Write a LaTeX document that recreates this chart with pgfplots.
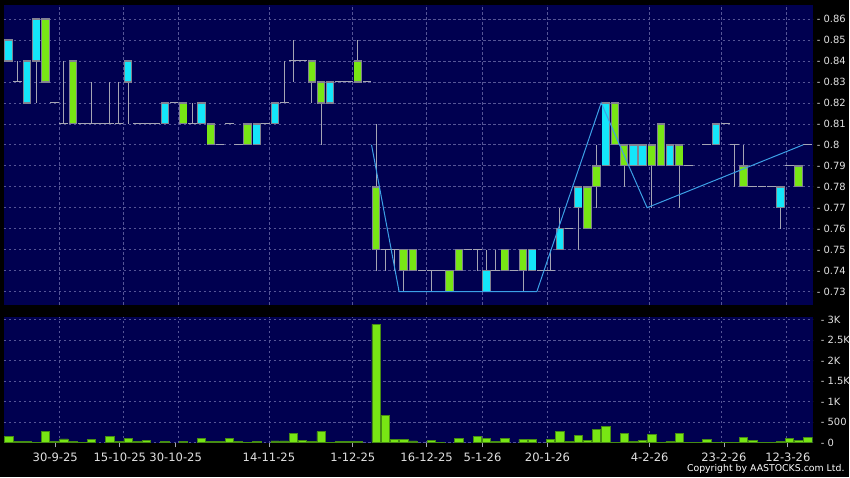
\documentclass[border=0pt]{standalone}
\usepackage{fontspec}
\setmainfont{DejaVu Sans}
\usepackage{pgfplots}
\pgfplotsset{compat=1.18}
\usepackage{pgfplotstable}

\definecolor{bg}{RGB}{0,0,80}
\definecolor{gridc}{RGB}{85,85,150}
\definecolor{upc}{RGB}{20,230,250}
\definecolor{dnc}{RGB}{120,230,20}
\definecolor{wick}{RGB}{165,165,180}
\definecolor{edge}{RGB}{130,130,145}
\definecolor{vedge}{RGB}{70,140,20}
\definecolor{zz}{RGB}{60,160,230}
\definecolor{lab}{RGB}{225,225,225}

% up candles (cyan)
\pgfplotstableread{
i o c h l
0 0.84 0.85 0.85 0.84
2 0.82 0.84 0.84 0.82
3 0.84 0.86 0.86 0.82
13 0.83 0.84 0.84 0.81
17 0.81 0.82 0.82 0.81
21 0.81 0.82 0.82 0.81
27 0.80 0.81 0.81 0.80
29 0.81 0.82 0.82 0.81
35 0.82 0.83 0.83 0.82
52 0.73 0.74 0.75 0.73
57 0.74 0.75 0.75 0.74
60 0.75 0.76 0.77 0.75
62 0.77 0.78 0.78 0.75
65 0.79 0.82 0.82 0.79
68 0.79 0.80 0.80 0.79
69 0.79 0.80 0.80 0.79
72 0.79 0.80 0.80 0.79
77 0.80 0.81 0.81 0.80
84 0.77 0.78 0.78 0.76
}\up

% down candles (green)
\pgfplotstableread{
i o c h l
4 0.86 0.83 0.86 0.83
7 0.84 0.81 0.84 0.81
19 0.82 0.81 0.82 0.81
22 0.81 0.80 0.81 0.80
26 0.81 0.80 0.81 0.80
33 0.84 0.83 0.84 0.82
34 0.83 0.82 0.83 0.80
38 0.84 0.83 0.85 0.83
40 0.78 0.75 0.81 0.74
43 0.75 0.74 0.75 0.73
44 0.75 0.74 0.75 0.74
48 0.74 0.73 0.74 0.73
49 0.75 0.74 0.75 0.74
54 0.75 0.74 0.75 0.74
56 0.75 0.74 0.75 0.73
63 0.78 0.76 0.78 0.76
64 0.79 0.78 0.80 0.77
66 0.82 0.80 0.82 0.80
67 0.80 0.79 0.80 0.78
70 0.80 0.79 0.80 0.77
71 0.81 0.79 0.81 0.79
73 0.80 0.79 0.80 0.77
80 0.79 0.78 0.80 0.78
86 0.79 0.78 0.79 0.78
}\dn

% doji days
\pgfplotstableread{
i o c h l
1 0.83 0.83 0.84 0.83
5 0.82 0.82 0.82 0.82
6 0.81 0.81 0.84 0.81
8 0.81 0.81 0.81 0.81
9 0.81 0.81 0.83 0.81
10 0.81 0.81 0.81 0.81
11 0.81 0.81 0.83 0.81
12 0.81 0.81 0.83 0.81
14 0.81 0.81 0.81 0.81
15 0.81 0.81 0.81 0.81
16 0.81 0.81 0.81 0.81
18 0.82 0.82 0.82 0.82
20 0.81 0.81 0.82 0.81
23 0.80 0.80 0.80 0.80
24 0.81 0.81 0.81 0.81
25 0.80 0.80 0.80 0.80
28 0.81 0.81 0.81 0.81
30 0.82 0.82 0.84 0.82
31 0.84 0.84 0.85 0.83
32 0.84 0.84 0.84 0.84
36 0.83 0.83 0.83 0.83
37 0.83 0.83 0.83 0.83
39 0.83 0.83 0.83 0.83
41 0.75 0.75 0.75 0.74
42 0.75 0.75 0.75 0.74
45 0.74 0.74 0.74 0.74
46 0.74 0.74 0.74 0.73
47 0.74 0.74 0.74 0.74
50 0.75 0.75 0.75 0.75
51 0.75 0.75 0.75 0.74
53 0.74 0.74 0.75 0.74
55 0.74 0.74 0.74 0.74
58 0.74 0.74 0.74 0.74
59 0.74 0.74 0.75 0.74
61 0.76 0.76 0.76 0.76
74 0.79 0.79 0.79 0.79
76 0.80 0.80 0.80 0.80
78 0.81 0.81 0.81 0.81
79 0.80 0.80 0.80 0.78
81 0.78 0.78 0.78 0.78
82 0.78 0.78 0.78 0.78
83 0.78 0.78 0.78 0.78
85 0.79 0.79 0.79 0.79
87 0.80 0.80 0.80 0.80
}\dj

% volume
\pgfplotstableread{
i v
0 150
1 30
2 30
3 10
4 270
5 30
6 90
7 30
8 10
9 80
11 160
12 30
13 100
14 30
15 65
17 30
19 25
21 105
22 30
23 30
24 113
25 25
26 10
27 25
29 45
30 45
31 235
32 55
33 30
34 267
35 10
36 30
37 30
38 25
40 2880
41 664
42 80
43 80
44 45
46 50
47 16
49 105
51 153
52 97
53 40
54 97
56 80
57 73
59 80
60 275
61 32
62 185
63 48
64 331
65 389
66 16
67 218
68 32
69 48
70 202
71 10
72 24
73 226
74 16
75 16
76 80
77 16
78 16
79 8
80 137
81 48
82 8
83 16
84 24
85 105
86 56
87 121
}\vol

\pgfplotsset{
  panel/.style={
    scale only axis, width=810bp,
    xmin=-0.51, xmax=87.53,
    axis background/.style={fill=bg},
    axis line style={draw=none},
    grid style={gridc, dash pattern=on 2.5bp off 2.5bp, line width=0.6bp},
    ytick pos=right, yticklabel pos=right,
    ytick style={draw=none},
    yticklabel style={anchor=west, inner sep=0pt, xshift=4bp, text=lab, font=\fontsize{10}{10}\selectfont},
    ymajorgrids,
  },
  wickp/.style={draw=none, mark=none, forget plot,
    error bars/.cd, y dir=both, y explicit, error mark=none,
    error bar style={draw=wick, line width=1bp, solid}},
  bodyp/.style 2 args={draw=none, mark=none, forget plot,
    error bars/.cd, y dir=both, y explicit, error mark=none,
    error bar style={draw=#1, line width=#2, solid}},
}

\begin{document}
\begin{tikzpicture}
\fill[black] (0bp,0bp) rectangle (850bp,478bp);

\begin{axis}[panel, height=300bp, at={(4bp,173bp)}, anchor=south west,
  ymin=0.7238, ymax=0.8667,
  xtick={5.50,12.46,18.43,28.40,37.46,45.5,51.59,58.65,69.71,77.53,84.60},
  xticklabels={}, xmajorgrids, xtick style={draw=none},
  ytick={0.73,0.74,0.75,0.76,0.77,0.78,0.79,0.80,0.81,0.82,0.83,0.84,0.85,0.86},
  yticklabels={- 0.73,- 0.74,- 0.75,- 0.76,- 0.77,- 0.78,- 0.79,- 0.8,- 0.81,- 0.82,- 0.83,- 0.84,- 0.85,- 0.86},
]
% wicks
\addplot[wickp] table[x=i, y expr=(\thisrow{h}+\thisrow{l})/2, y error expr=(\thisrow{h}-\thisrow{l})/2] {\up};
\addplot[wickp] table[x=i, y expr=(\thisrow{h}+\thisrow{l})/2, y error expr=(\thisrow{h}-\thisrow{l})/2] {\dn};
\addplot[wickp] table[x=i, y expr=(\thisrow{h}+\thisrow{l})/2, y error expr=(\thisrow{h}-\thisrow{l})/2] {\dj};
% doji bars
\addplot[draw=none, mark=none, forget plot,
  error bars/.cd, x dir=both, x fixed=0.48, error mark=none,
  error bar style={draw=wick, line width=1bp, solid}] table[x=i, y=o] {\dj};
% bodies
\addplot[bodyp={edge}{8.4bp}] table[x=i, y expr=(\thisrow{o}+\thisrow{c})/2, y error expr=abs(\thisrow{c}-\thisrow{o})/2+0.0003] {\up};
\addplot[bodyp={upc}{6.6bp}] table[x=i, y expr=(\thisrow{o}+\thisrow{c})/2, y error expr=abs(\thisrow{c}-\thisrow{o})/2-0.0004] {\up};
\addplot[bodyp={edge}{8.4bp}] table[x=i, y expr=(\thisrow{o}+\thisrow{c})/2, y error expr=abs(\thisrow{c}-\thisrow{o})/2+0.0003] {\dn};
\addplot[bodyp={dnc}{6.6bp}] table[x=i, y expr=(\thisrow{o}+\thisrow{c})/2, y error expr=abs(\thisrow{c}-\thisrow{o})/2-0.0004] {\dn};
% zigzag
\addplot[zz, line width=1bp, mark=none] coordinates {(39.5,0.80) (42.5,0.73) (57.5,0.73) (64.5,0.82) (69.5,0.77) (86.5,0.80)};
\end{axis}

\begin{axis}[panel, height=126bp, at={(4bp,34bp)}, anchor=south west,
  ymin=-15, ymax=3050,
  ytick={0,500,1000,1500,2000,2500,3000},
  yticklabels={- 0,- 500,- 1K,- 1.5K,- 2K,- 2.5K,- 3K},
  xtick={5.07,12.10,18.18,28.33,37.46,45.5,51.59,58.65,69.78,77.86,84.82},
  xticklabels={30-9-25,15-10-25,30-10-25,14-11-25,1-12-25,16-12-25,5-1-26,20-1-26,4-2-26,23-2-26,12-3-26},
  xtick pos=bottom, tick align=outside, major tick length=4bp,
  xtick style={wick, line width=0.8bp},
  xticklabel style={anchor=north, inner sep=0pt, yshift=-5bp, text=lab, font=\fontsize{11.6}{12}\selectfont},
  extra x ticks={5.50,12.46,18.43,28.40,37.46,45.5,51.59,58.65,69.71,77.53,84.60},
  extra x tick labels={},
  extra x tick style={grid=major, tick style={draw=none}},
]
\addplot[ybar, bar width=0.9, fill=dnc, draw=vedge, line width=0.6bp] table[x=i, y=v] {\vol};
\end{axis}

\node[anchor=east, inner sep=0pt, text=white, font=\fontsize{9.4}{10}\selectfont] at (846bp,8bp) {Copyright by AASTOCKS.com Ltd.};
\end{tikzpicture}
\end{document}
